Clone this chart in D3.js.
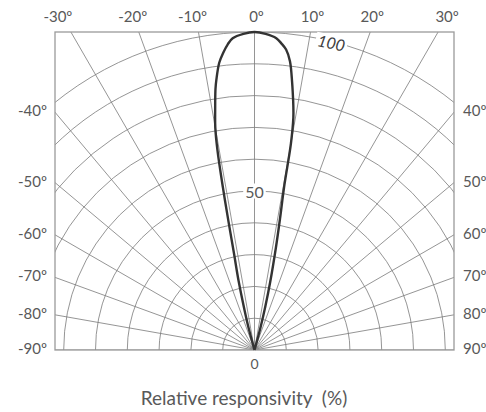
<!DOCTYPE html>
<html>
<head>
<meta charset="utf-8">
<script src="https://cdn.jsdelivr.net/npm/d3@7"></script>
<style>
  body { margin: 0; background: #fff; }
  text { font-family: Lato, "Open Sans", sans-serif; fill: #595959; }
</style>
</head>
<body>
<div class="canvas"></div>
<script>
// beam pattern: angle (deg) vs relative responsivity (%)
const angles = [-16, -15, -14, -13, -12, -11.5, -11, -10.5, -10, -9.5, -9, -8.5, -8, -7, -6, -5, -4, -2, 0,
  2, 4, 5, 6, 7, 8, 8.5, 9, 9.5, 10, 10.3, 11, 11.8, 13, 14, 15, 16];
const responsivity = [0, 7, 13, 22, 31, 40, 52, 64, 71, 75, 79, 83, 86, 91, 94, 96.5, 98.3, 99.5, 100,
  99.5, 98.3, 96.8, 95, 91.5, 85, 81.5, 78, 74, 66, 52, 42, 33, 22, 14, 7, 0];

const ringLevels = [10, 20, 30, 40, 50, 60, 70, 80, 90, 100];
const spokeAngles = [-90, -80, -70, -60, -50, -40, -30, -20, -10, 0, 10, 20, 30, 40, 50, 60, 70, 80, 90];
const topTicks = [-30, -20, -10, 0, 10, 20, 30];
const sideTicks = [40, 50, 60, 70, 80, 90];

const width = 486, height = 412;
const box = { left: 55, right: 454, top: 32, bottom: 350 };
const cx = (box.left + box.right) / 2, cy = box.bottom;
const rad = d => d * Math.PI / 180;

const r = d3.scaleLinear().domain([0, 100]).range([0, cy - box.top]);

const svg = d3.select('.canvas')
  .append('svg')
  .attr('width', width)
  .attr('height', height);

svg.append('clipPath')
  .attr('id', 'plot-clip')
  .append('rect')
  .attr('x', box.left)
  .attr('y', box.top)
  .attr('width', box.right - box.left)
  .attr('height', box.bottom - box.top);

const grid = svg.append('g')
  .attr('clip-path', 'url(#plot-clip)')
  .append('g')
  .attr('transform', `translate(${cx},${cy})`);

grid.selectAll('circle')
  .data(ringLevels)
  .join('circle')
  .attr('r', d => r(d))
  .attr('fill', 'none')
  .attr('stroke', '#7a7a7a')
  .attr('stroke-width', 0.8);

grid.selectAll('line')
  .data(spokeAngles)
  .join('line')
  .attr('x1', 0)
  .attr('y1', 0)
  .attr('x2', d => 700 * Math.sin(rad(d)))
  .attr('y2', d => -700 * Math.cos(rad(d)))
  .attr('stroke', '#7a7a7a')
  .attr('stroke-width', 0.8);

// frame
svg.append('rect')
  .attr('x', box.left)
  .attr('y', box.top)
  .attr('width', box.right - box.left)
  .attr('height', box.bottom - box.top)
  .attr('fill', 'none')
  .attr('stroke', '#9a9a9a')
  .attr('stroke-width', 1.3);

// labels with white backing
function backedLabel(g, txt) {
  const t = g.append('text')
    .attr('text-anchor', 'middle')
    .attr('dominant-baseline', 'central')
    .text(txt);
  return t;
}
function addBacking(g) {
  const b = g.select('text').node().getBBox();
  g.insert('rect', 'text')
    .attr('x', b.x - 2).attr('y', b.y + 2)
    .attr('width', b.width + 4).attr('height', b.height - 4)
    .attr('fill', '#fff');
}

const lbl100 = svg.append('g')
  .attr('transform', `translate(${cx + r(100) * Math.sin(rad(14))},${cy - r(100) * Math.cos(rad(14)) + 1}) rotate(12)`);
backedLabel(lbl100, '100')
  .style('font-style', 'italic')
  .style('font-size', '16px')
  .style('fill', '#404040');
addBacking(lbl100);

const lbl50 = svg.append('g')
  .attr('transform', `translate(${cx},${cy - r(50)})`);
backedLabel(lbl50, '50').style('font-size', '16px');
addBacking(lbl50);

svg.append('text')
  .attr('x', cx)
  .attr('y', cy + 13)
  .attr('text-anchor', 'middle')
  .attr('dominant-baseline', 'central')
  .style('font-size', '14px')
  .text('0');

// the pattern
const line = d3.lineRadial()
  .angle((d, i) => rad(angles[i]))
  .radius(d => r(d))
  .curve(d3.curveCatmullRom.alpha(0.5));

svg.append('path')
  .datum(responsivity)
  .attr('transform', `translate(${cx},${cy})`)
  .attr('d', line)
  .attr('fill', 'none')
  .attr('stroke', '#333')
  .attr('stroke-width', 2.4);

// angle ticks
svg.append('g').selectAll('text')
  .data(topTicks)
  .join('text')
  .attr('x', d => cx + r(100) * Math.tan(rad(d)) + (d < 0 ? -6 : 2) + (Math.abs(d) === 30 ? Math.sign(d) * 7 : 0))
  .attr('y', 16)
  .attr('text-anchor', 'middle')
  .attr('dominant-baseline', 'central')
  .style('font-size', '15px')
  .text(d => d + 'º');

const sideY = d => cy - (cx - box.left) / Math.tan(rad(d)) - 2;

svg.append('g').selectAll('text')
  .data(sideTicks)
  .join('text')
  .attr('x', box.left - 8)
  .attr('y', sideY)
  .attr('text-anchor', 'end')
  .attr('dominant-baseline', 'central')
  .style('font-size', '15px')
  .text(d => '-' + d + 'º');

svg.append('g').selectAll('text')
  .data(sideTicks)
  .join('text')
  .attr('x', box.right + 9)
  .attr('y', sideY)
  .attr('text-anchor', 'start')
  .attr('dominant-baseline', 'central')
  .style('font-size', '15px')
  .text(d => d + 'º');

svg.append('text')
  .attr('x', 244)
  .attr('y', 405)
  .attr('text-anchor', 'middle')
  .style('font-size', '19px')
  .style('white-space', 'pre')
  .text('Relative responsivity  (%)');
</script>
</body>
</html>
